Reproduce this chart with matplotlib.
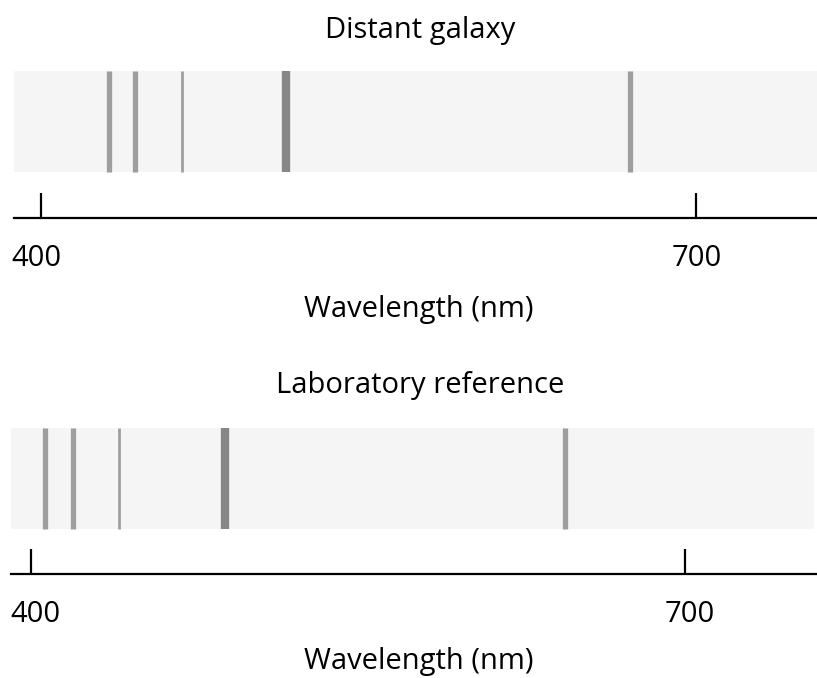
import matplotlib
matplotlib.use('Agg')
import matplotlib.pyplot as plt
from matplotlib.transforms import ScaledTranslation

# spectral lines (nm)
galaxy_lines = [431.1, 443.3, 464.9, 512.6, 670.1]
lab_lines = [406.4, 419.4, 440.6, 489.2, 645.0]
line_strength = ['medium', 'medium', 'weak', 'strong', 'medium']

tick_values = [400, 700]
tick_labels = ['400', '700']
panel_titles = ['Distant galaxy', 'Laboratory reference']
x_label = 'Wavelength (nm)'

plt.rcParams['font.family'] = ['Open Sans', 'DejaVu Sans']

W, H = 817, 678
DPI = 100
fig = plt.figure(figsize=(W / DPI, H / DPI), dpi=DPI)

width_pt = {'weak': 2.0, 'medium': 3.8, 'strong': 6.0}
color_of = {'weak': '#9f9f9f', 'medium': '#9e9e9e', 'strong': '#878787'}
FS = 21


def px_axes(left, right, top, bottom):
    return fig.add_axes([left / W, 1 - bottom / H, (right - left) / W, (bottom - top) / H])


def draw_panel(lines, title, left, right, top, band_bottom, axis_y, xlim, band_right,
               title_base, label_base, label_shift):
    ax = px_axes(left, right, top, axis_y)
    ax.set_xlim(*xlim)
    ax.set_ylim(0, 1)
    band_lo = (axis_y - band_bottom) / (axis_y - top)
    ax.axhspan(band_lo, 1, xmin=0, xmax=(band_right - left) / (right - left),
               color='#f5f5f5', lw=0, zorder=0)
    for wl, s in zip(lines, line_strength):
        ax.vlines(wl, band_lo, 1, colors=color_of[s], linewidth=width_pt[s], zorder=1)

    ax.set_facecolor('none')
    for side in ['top', 'right', 'left']:
        ax.spines[side].set_visible(False)
    ax.spines['bottom'].set_linewidth(1.6)
    ax.set_yticks([])
    ax.set_xticks(tick_values)
    ax.set_xticklabels(tick_labels)
    ax.tick_params(axis='x', direction='in', length=18, width=1.6, pad=18.5,
                   labelsize=FS, colors='black')
    # labels in the original sit a few px off their ticks
    for lab, dx in zip(ax.get_xticklabels(), label_shift):
        lab.set_transform(lab.get_transform() + ScaledTranslation(dx / DPI, 0, fig.dpi_scale_trans))

    fig.text(420 / W, 1 - title_base / H, title, ha='center', va='baseline', fontsize=FS)
    fig.text(419 / W, 1 - label_base / H, x_label, ha='center', va='baseline', fontsize=FS)
    return ax


draw_panel(galaxy_lines, panel_titles[0], 14, 817, 71, 172, 218, (387.8, 755.6), 817,
           38, 316.7, [-4.5, 1])
draw_panel(lab_lines, panel_titles[1], 11, 817, 428.3, 529, 574.3, (391.0, 760.7), 813.7,
           393, 669, [5, 5])

plt.savefig('out.png', dpi=DPI)
